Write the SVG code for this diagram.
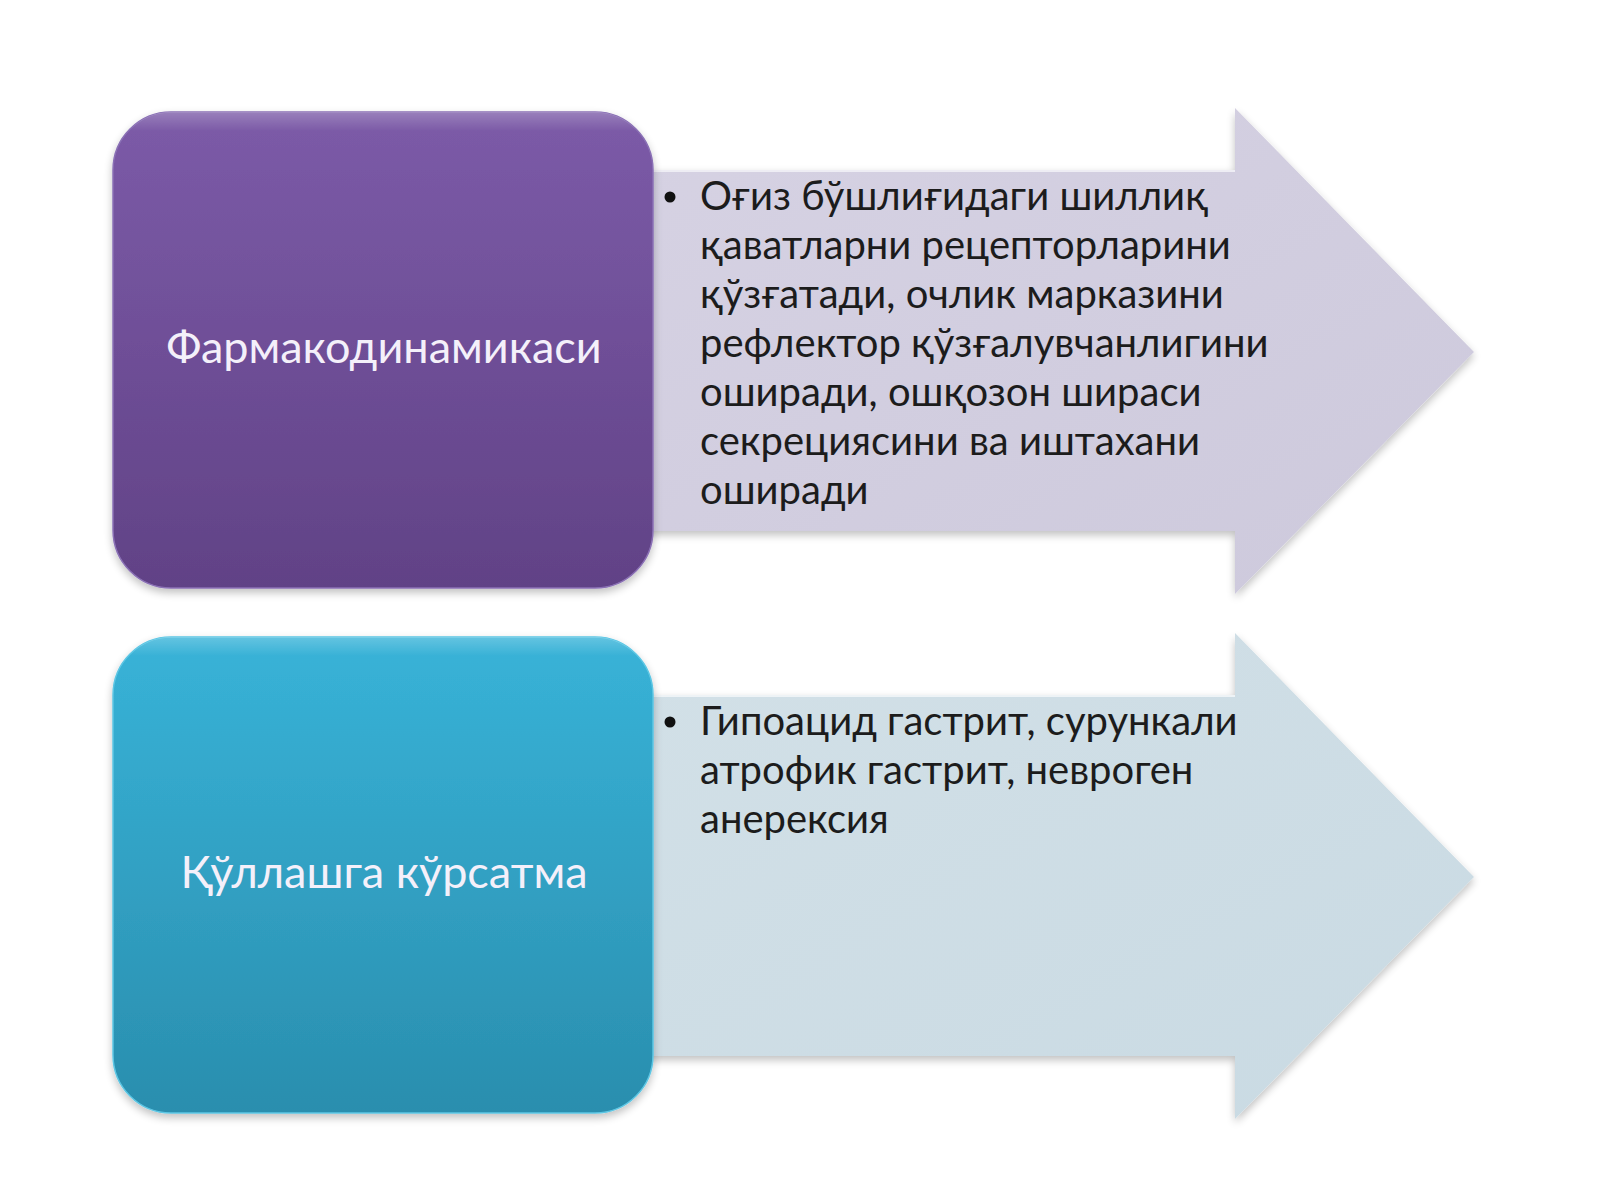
<svg xmlns="http://www.w3.org/2000/svg" width="1600" height="1200" viewBox="0 0 1600 1200">
  <style>
    .box-text { font-family: Lato, "Liberation Sans", sans-serif; font-size: 45px; fill: #F4F0FA; text-anchor: middle; }
    .bullet-text { font-family: Lato, "Liberation Sans", sans-serif; font-size: 40px; fill: #1C1C1C; }
    .bullet { fill: #111111; }
  </style>
  <defs>
    <linearGradient id="gPurple" x1="0" y1="0" x2="0" y2="1">
      <stop offset="0" stop-color="#7C5BA8"/>
      <stop offset="1" stop-color="#614286"/>
    </linearGradient>
    <linearGradient id="gTeal" x1="0" y1="0" x2="0" y2="1">
      <stop offset="0" stop-color="#38B3D8"/>
      <stop offset="1" stop-color="#2A8EAE"/>
    </linearGradient>
    <linearGradient id="gArrow1" x1="0" y1="0" x2="1" y2="1">
      <stop offset="0" stop-color="#D6D2E3"/>
      <stop offset="1" stop-color="#CDC9DC"/>
    </linearGradient>
    <linearGradient id="gArrow2" x1="0" y1="0" x2="1" y2="1">
      <stop offset="0" stop-color="#D2E0E7"/>
      <stop offset="1" stop-color="#C9DAE3"/>
    </linearGradient>
    <linearGradient id="gGloss" x1="0" y1="0" x2="0" y2="1">
      <stop offset="0" stop-color="#FFFFFF" stop-opacity="0.22"/>
      <stop offset="0.04" stop-color="#FFFFFF" stop-opacity="0"/>
      <stop offset="1" stop-color="#FFFFFF" stop-opacity="0"/>
    </linearGradient>
    <filter id="shadow" x="-10%" y="-10%" width="120%" height="125%">
      <feGaussianBlur in="SourceAlpha" stdDeviation="4"/>
      <feOffset dx="0" dy="4" result="b"/>
      <feComponentTransfer><feFuncA type="linear" slope="0.25"/></feComponentTransfer>
      <feMerge><feMergeNode/><feMergeNode in="SourceGraphic"/></feMerge>
    </filter>
  </defs>

  <rect width="1600" height="1200" fill="#FFFFFF"/>

  <g id="connectors">
    <polygon id="arrow1" points="640,170 1235,170 1235,108 1474,352 1235,594 1235,531 640,531" fill="url(#gArrow1)" filter="url(#shadow)"/>
    <line x1="645" y1="171" x2="1235" y2="171" stroke="#EEEDF4" stroke-width="2"/>
    <polygon id="arrow2" points="640,695 1235,695 1235,633 1474,877 1235,1119 1235,1056 640,1056" fill="url(#gArrow2)" filter="url(#shadow)"/>
    <line x1="645" y1="696" x2="1235" y2="696" stroke="#EEF3F6" stroke-width="2"/>
  </g>

  <g id="node-pharmacodynamics">
    <rect x="113" y="112" width="540" height="476" rx="58" ry="58" fill="url(#gPurple)" stroke="#8A70B5" stroke-width="1.5" filter="url(#shadow)"/>
    <rect x="113" y="112" width="540" height="476" rx="58" ry="58" fill="url(#gGloss)"/>
    <text class="box-text" x="384" y="363">Фармакодинамикаси</text>
  </g>

  <g id="node-pharmacodynamics-text">
    <circle class="bullet" cx="670" cy="197" r="5.5"/>
    <text class="bullet-text" x="700" y="210">Оғиз бўшлиғидаги шиллиқ</text>
    <text class="bullet-text" x="700" y="259">қаватларни рецепторларини</text>
    <text class="bullet-text" x="700" y="308">қўзғатади, очлик марказини</text>
    <text class="bullet-text" x="700" y="357">рефлектор қўзғалувчанлигини</text>
    <text class="bullet-text" x="700" y="406">оширади, ошқозон шираси</text>
    <text class="bullet-text" x="700" y="455">секрециясини ва иштахани</text>
    <text class="bullet-text" x="700" y="504">оширади</text>
  </g>

  <g id="node-indications">
    <rect x="113" y="637" width="540" height="476" rx="58" ry="58" fill="url(#gTeal)" stroke="#5CC6E4" stroke-width="1.5" filter="url(#shadow)"/>
    <rect x="113" y="637" width="540" height="476" rx="58" ry="58" fill="url(#gGloss)"/>
    <text class="box-text" x="384" y="888">Қўллашга кўрсатма</text>
  </g>

  <g id="node-indications-text">
    <circle class="bullet" cx="670" cy="722" r="5.5"/>
    <text class="bullet-text" x="700" y="735">Гипоацид гастрит, сурункали</text>
    <text class="bullet-text" x="700" y="784">атрофик гастрит, невроген</text>
    <text class="bullet-text" x="700" y="833">анерексия</text>
  </g>
</svg>
